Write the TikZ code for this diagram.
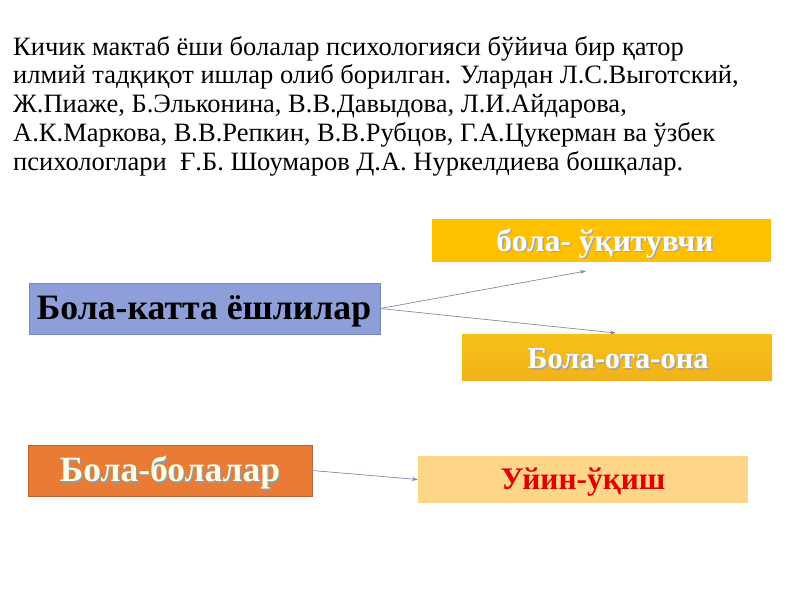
\documentclass[tikz,border=0pt]{standalone}
\usepackage{fontspec}
\setmainfont{Liberation Serif}
\usetikzlibrary{arrows.meta}
\definecolor{gold}{HTML}{FFC000}
\definecolor{goldB}{HTML}{F2B21C}
\definecolor{blueBox}{HTML}{8E9ED8}
\definecolor{orangeBox}{HTML}{E97B35}
\definecolor{paleOrange}{HTML}{FDD68A}
\definecolor{arrowC}{HTML}{7F8CA8}
\tikzset{
  box/.style={draw=none, inner sep=0pt, font=\bfseries},
  link/.style={draw=arrowC, line width=0.7pt, -{Stealth[length=6pt,width=4pt]}},
}
\begin{document}
\begin{tikzpicture}[x=1pt,y=-1pt]
\useasboundingbox[fill=white] (0,0) rectangle (800,600);
\node[anchor=north west, inner sep=0pt, align=left, font=\fontsize{26.5}{28.8}\selectfont] (para) at (13,36)
{Кичик мактаб ёши болалар психологияси бўйича бир қатор\\
илмий тадқиқот ишлар олиб борилган. Улардан Л.С.Выготский,\\
Ж.Пиаже, Б.Эльконина, В.В.Давыдова, Л.И.Айдарова,\\
А.К.Маркова, В.В.Репкин, В.В.Рубцов, Г.А.Цукерман ва ўзбек\\
психологлари\ \ Ғ.Б. Шоумаров Д.А. Нуркелдиева бошқалар.};
% boxes
\node[box, fill=gold, minimum width=339pt, minimum height=43pt] (teach) at (601.5,240.5) {};
\node[text=black!35, font=\bfseries\fontsize{31.5}{31.5}\selectfont] at (606.5,245) {бола- ўқитувчи};
\node[text=white, font=\bfseries\fontsize{31.5}{31.5}\selectfont] at (605,243.5) {бола- ўқитувчи};
\node[box, top color=goldB!80!yellow, bottom color=goldB, minimum width=310pt, minimum height=46pt] (parent) at (617,357) {};
\node[text=black!35, font=\bfseries\fontsize{30.5}{30.5}\selectfont] at (619.5,360.5) {Бола-ота-она};
\node[text=white, font=\bfseries\fontsize{30.5}{30.5}\selectfont] at (618,359) {Бола-ота-она};
\node[box, fill=blueBox, draw=blueBox!85!black, line width=0.4pt, minimum width=351pt, minimum height=51pt] (adult) at (204.5,308.5) {};
\node[text=black, font=\bfseries\fontsize{35.7}{35.7}\selectfont] at (204,311) {Бола-катта ёшлилар};
\node[box, fill=orangeBox, draw=orangeBox!80!black, line width=0.4pt, minimum width=284pt, minimum height=51pt] (kids) at (170,470.5) {};
\node[text=black!40, font=\bfseries\fontsize{35.5}{35.5}\selectfont] at (171.5,474.5) {Бола-болалар};
\node[text=white!90!yellow, font=\bfseries\fontsize{35.5}{35.5}\selectfont] at (170,473) {Бола-болалар};
\node[box, fill=paleOrange, minimum width=330pt, minimum height=47pt] (play) at (583,479.5) {};
\node[text=red!90!black, font=\bfseries\fontsize{31.4}{31.4}\selectfont] at (583,482) {Уйин-ўқиш};
% connectors
\coordinate (a1) at (586,271);
\coordinate (a2) at (616,333);
\draw[link] (adult.east) -- (a1);
\draw[link] (adult.east) -- (a2);
\draw[link] (kids.east) -- (play.west);
\end{tikzpicture}
\end{document}
